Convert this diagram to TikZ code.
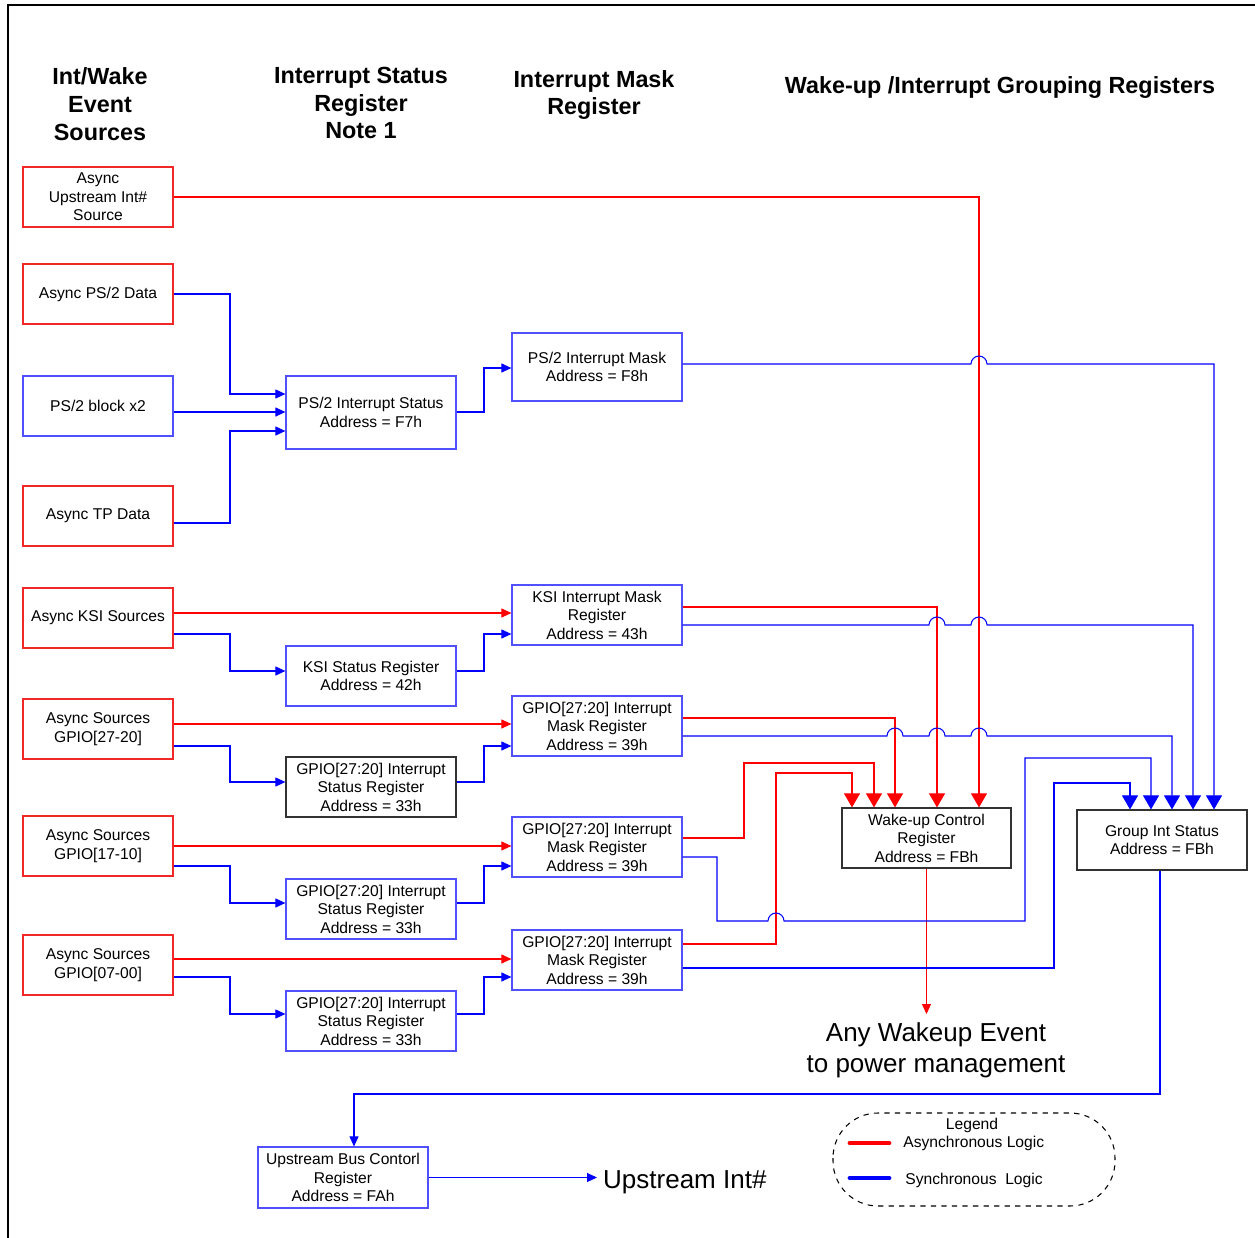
\documentclass[tikz,border=0pt]{standalone}
\usepackage{fontspec}
\setmainfont{Liberation Sans}
\usetikzlibrary{arrows.meta,calc}
\definecolor{boxred}{RGB}{240,40,40}
\definecolor{boxblue}{RGB}{80,80,255}
\definecolor{boxblk}{RGB}{50,50,50}
\begin{document}
\begin{tikzpicture}[x=0.02cm,y=-0.02cm,
 txt/.style={font=\fontsize{8.9}{10.5}\selectfont},
 box/.style={txt,draw,line width=0.7pt,minimum width=3cm,minimum height=1.2cm,inner sep=0pt,align=center},
 rbox/.style={box,draw=boxred},
 bbox/.style={box,draw=boxblue},
 kbox/.style={box,draw=boxblk},
 wide/.style={minimum width=3.4cm},
 head/.style={font=\fontsize{13.3}{15.9}\selectfont\bfseries,align=center},
 big/.style={font=\fontsize{14.8}{17.6}\selectfont,align=center},
 rl/.style={draw=red,line width=0.6pt},
 bl/.style={draw=blue,line width=0.6pt},
 sa/.style={-{Triangle[length=0.2cm,width=0.18cm]}},
 la/.style={-{Triangle[length=0.28cm,width=0.32cm]}},
]
\useasboundingbox (0,0) rectangle (1255,1238);
% frame
\draw[line width=1.4pt] (8,1242) -- (8,5) -- (1258,5);

% headers
\node[head] (h1) at (100,104) {Int/Wake\\Event\\Sources};
\node[head] (h2) at (361,103) {Interrupt Status\\Register\\Note 1};
\node[head] (h3) at (594,95) {Interrupt Mask\\Register};
\node[head] (h4) at (1000,88) {Wake-up /Interrupt Grouping Registers};

% sources
\node[rbox] (A1) at (98,197) {Async\\Upstream Int\#\\Source};
\node[rbox] (A2) at (98,294) {Async PS/2 Data};
\node[bbox] (A3) at (98,406) {PS/2 block x2};
\node[rbox] (A4) at (98,516) {Async TP Data};
\node[rbox] (A5) at (98,618) {Async KSI Sources};
\node[rbox] (A6) at (98,729) {Async Sources\\GPIO[27-20]};
\node[rbox] (A7) at (98,846) {Async Sources\\GPIO[17-10]};
\node[rbox] (A8) at (98,965) {Async Sources\\GPIO[07-00]};

% status registers
\node[bbox,wide,minimum height=1.46cm] (S1) at (371,412.5) {PS/2 Interrupt Status\\Address = F7h};
\node[bbox,wide] (S2) at (371,676) {KSI Status Register\\Address = 42h};
\node[kbox,wide] (S3) at (371,787) {GPIO[27:20] Interrupt\\Status Register\\Address = 33h};
\node[bbox,wide] (S4) at (371,909) {GPIO[27:20] Interrupt\\Status Register\\Address = 33h};
\node[bbox,wide] (S5) at (371,1021) {GPIO[27:20] Interrupt\\Status Register\\Address = 33h};

% mask registers
\node[bbox,wide,minimum height=1.36cm] (M1) at (597,367) {PS/2 Interrupt Mask\\Address = F8h};
\node[bbox,wide] (M2) at (597,615) {KSI Interrupt Mask\\Register\\Address = 43h};
\node[bbox,wide] (M3) at (597,726) {GPIO[27:20] Interrupt\\Mask Register\\Address = 39h};
\node[bbox,wide] (M4) at (597,847) {GPIO[27:20] Interrupt\\Mask Register\\Address = 39h};
\node[bbox,wide] (M5) at (597,960) {GPIO[27:20] Interrupt\\Mask Register\\Address = 39h};

% grouping registers
\node[kbox,minimum width=3.38cm] (W) at (926.5,838) {Wake-up Control\\Register\\Address = FBh};
\node[kbox,wide] (G) at (1162,840) {Group Int Status\\Address = FBh};
\node[bbox,wide,minimum height=1.22cm] (U) at (343,1177.5) {Upstream Bus Contorl\\Register\\Address = FAh};

% outputs
\node[big] (wk) at (936,1050) {Any Wakeup Event\\to power management};
\node[big,anchor=west] (ui) at (597,1182) {Upstream Int\#};

% ---- red (async) connectors
\draw[rl,la] (A1.east |- 0,197) -| (W.north -| 979,0);
\draw[rl,sa] (A5.east |- 0,613) -- (M2.west |- 0,613);
\draw[rl,sa] (A6.east |- 0,724) -- (M3.west |- 0,724);
\draw[rl,sa] (A7.east |- 0,846) -- (M4.west |- 0,846);
\draw[rl,sa] (A8.east |- 0,959) -- (M5.west |- 0,959);
\draw[rl,la] (M2.east |- 0,607) -| (W.north -| 937,0);
\draw[rl,la] (M3.east |- 0,718) -| (W.north -| 895,0);
\draw[rl,la] (M4.east |- 0,838) -| (744,763) -| (W.north -| 874,0);
\draw[rl,la] (M5.east |- 0,944) -| (776,773) -| (W.north -| 852,0);
\draw[rl,sa] (W.south) -- (W.south |- 0,1014);

% ---- blue (sync) connectors
\draw[bl,sa] (A2.east |- 0,294) -| (230,394) -- (S1.west |- 0,394);
\draw[bl,sa] (A3.east |- 0,412) -- (S1.west |- 0,412);
\draw[bl,sa] (A4.east |- 0,523) -| (230,431) -- (S1.west |- 0,431);
\draw[bl,sa] (S1.east |- 0,412) -| (484,368) -- (M1.west |- 0,368);

\draw[bl,sa] (A5.east |- 0,634) -| (230,671) -- (S2.west |- 0,671);
\draw[bl,sa] (S2.east |- 0,671) -| (484,634) -- (M2.west |- 0,634);
\draw[bl,sa] (A6.east |- 0,746) -| (230,782) -- (S3.west |- 0,782);
\draw[bl,sa] (S3.east |- 0,782) -| (484,746) -- (M3.west |- 0,746);
\draw[bl,sa] (A7.east |- 0,866) -| (230,903) -- (S4.west |- 0,903);
\draw[bl,sa] (S4.east |- 0,903) -| (484,866) -- (M4.west |- 0,866);
\draw[bl,sa] (A8.east |- 0,977) -| (230,1014) -- (S5.west |- 0,1014);
\draw[bl,sa] (S5.east |- 0,1014) -| (484,977) -- (M5.west |- 0,977);

\draw[bl,la] (M1.east |- 0,364) -- (971,364) arc[start angle=180,end angle=0,radius=0.16cm]
  -- (1214,364) -- (G.north -| 1214,0);
\draw[bl,la] (M2.east |- 0,625) -- (929,625) arc[start angle=180,end angle=0,radius=0.16cm]
  -- (971,625) arc[start angle=180,end angle=0,radius=0.16cm]
  -- (1193,625) -- (G.north -| 1193,0);
\draw[bl,la] (M3.east |- 0,736) -- (887,736) arc[start angle=180,end angle=0,radius=0.16cm]
  -- (929,736) arc[start angle=180,end angle=0,radius=0.16cm]
  -- (971,736) arc[start angle=180,end angle=0,radius=0.16cm]
  -- (1172,736) -- (G.north -| 1172,0);
\draw[bl,la] (M4.east |- 0,857) -| (717,921) -- (768,921) arc[start angle=180,end angle=0,radius=0.16cm]
  -- (1025,921) |- (1151,758) -- (G.north -| 1151,0);
\draw[bl,la] (M5.east |- 0,968) -| (1054,783) -| (G.north -| 1130,0);

\draw[bl,sa] (G.south -| 1160,0) |- (354,1094) -- (U.north -| 354,0);
\draw[bl,sa] (U.east) -- (U.east -| ui.west);

% legend
\draw[line width=0.6pt,dashed,rounded corners=0.9cm] (833,1113) rectangle (1115,1206);
\node[txt] (lg) at (972,1125) {Legend};
\draw[red,line width=2.8pt,line cap=round] (850,1143) -- (889,1143);
\draw[blue,line width=2.8pt,line cap=round] (850,1178) -- (889,1178);
\node[txt,anchor=west,inner sep=0pt] (la1) at (903,1143) {Asynchronous Logic};
\node[txt,anchor=west,inner sep=0pt] (la2) at (905,1180) {Synchronous\ \ Logic};
\end{tikzpicture}
\end{document}
